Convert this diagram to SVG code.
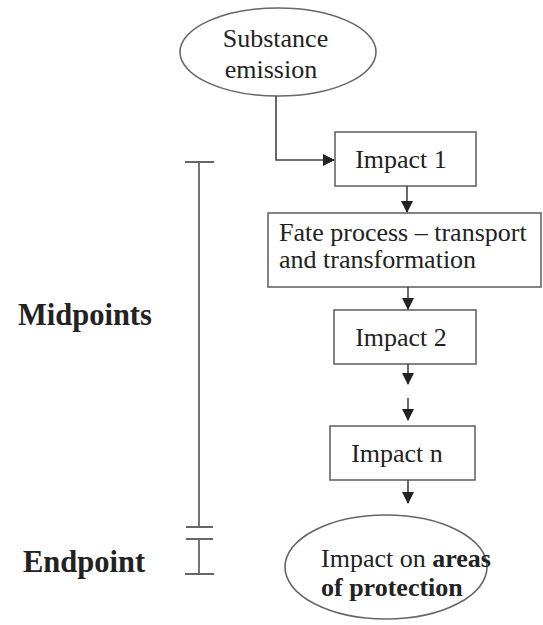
<svg xmlns="http://www.w3.org/2000/svg" width="543" height="625" viewBox="0 0 543 625">
<defs>
<marker id="ah" markerWidth="12" markerHeight="12" refX="11" refY="6" orient="auto" markerUnits="userSpaceOnUse">
<path d="M0,0 L12,6 L0,12 z" fill="#222"/>
</marker>
<style>
.shape{fill:#fff;stroke:#666;stroke-width:1.6}
.t{font-family:'Liberation Serif','DejaVu Serif',serif;font-size:26px;fill:#222}
.b{font-weight:bold}
.lbl{font-family:'Liberation Serif','DejaVu Serif',serif;font-size:30.5px;font-weight:bold;fill:#222}
.conn{stroke:#444;stroke-width:1.6;fill:none}
.brk{stroke:#666;stroke-width:1.8;fill:none}
</style>
</defs>
<rect width="543" height="625" fill="#fff"/>
<g id="emission">
<ellipse class="shape" cx="278" cy="52" rx="98" ry="44"/>
<text class="t" x="275.5" y="47" text-anchor="middle">Substance</text>
<text class="t" x="271" y="78" text-anchor="middle">emission</text>
</g>
<g id="impact1">
<rect class="shape" x="335" y="132" width="141" height="54"/>
<text class="t" x="401" y="168" text-anchor="middle">Impact 1</text>
</g>
<g id="fate">
<rect class="shape" x="268" y="213" width="273" height="74"/>
<text class="t" x="279" y="241">Fate process – transport</text>
<text class="t" x="279" y="268">and transformation</text>
</g>
<g id="impact2">
<rect class="shape" x="334" y="310" width="142" height="54"/>
<text class="t" x="401" y="346" text-anchor="middle">Impact 2</text>
</g>
<g id="impactn">
<rect class="shape" x="330" y="426" width="145" height="54"/>
<text class="t" x="397" y="462" text-anchor="middle">Impact n</text>
</g>
<g id="aop">
<ellipse class="shape" cx="386" cy="567" rx="101" ry="52"/>
<text class="t" x="321" y="567">Impact on <tspan class="b">areas</tspan></text>
<text class="t b" x="321" y="596">of protection</text>
</g>
<g id="scale">
<path class="brk" d="M199,162 V527 M185,162 H214 M186,527 H213 M186,539 H213 M199,539 V574 M185,574 H214"/>
<text class="lbl" x="18" y="325">Midpoints</text>
<text class="lbl" x="23" y="572">Endpoint</text>
</g>
<g id="connectors">
<path class="conn" d="M276,96 V160 H334" marker-end="url(#ah)"/>
<path class="conn" d="M407,186 V212" marker-end="url(#ah)"/>
<path class="conn" d="M408,287 V309" marker-end="url(#ah)"/>
<path class="conn" d="M408,364 V384" marker-end="url(#ah)"/>
<path class="conn" d="M408,398 V420" marker-end="url(#ah)"/>
<path class="conn" d="M408,480 V503" marker-end="url(#ah)"/>
</g>
</svg>
